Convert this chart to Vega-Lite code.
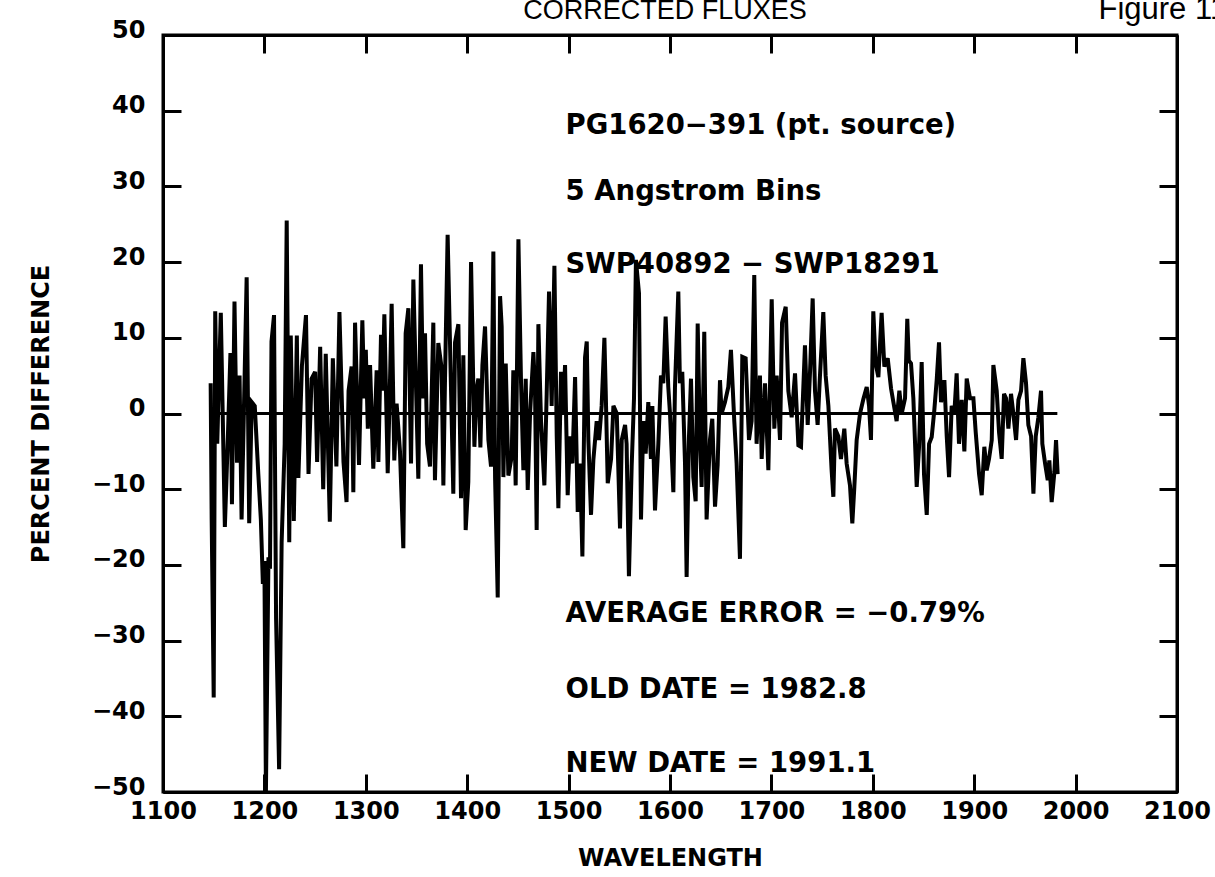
{
  "$schema": "https://vega.github.io/schema/vega-lite/v6.json",
  "width": 1014,
  "height": 757,
  "autosize": {"type": "none"},
  "padding": {"left": 163, "top": 35, "right": 38, "bottom": 85},
  "background": "white",
  "config": {
    "view": {"stroke": "black", "strokeWidth": 3},
    "axis": {
      "grid": false,
      "domainColor": "black",
      "domainWidth": 3,
      "tickColor": "black",
      "tickWidth": 3,
      "tickSize": -18,
      "labelColor": "black",
      "labelFont": "DejaVu Sans",
      "labelFontWeight": "bold",
      "labelFontSize": 24,
      "labelOverlap": false,
      "labelFlush": false,
      "titleColor": "black",
      "titleFont": "DejaVu Sans",
      "titleFontWeight": "bold",
      "titleFontSize": 24
    }
  },
  "datasets": {
    "spec": [
      {"w":1147,"p":4},{"w":1148,"p":-14},{"w":1150,"p":-37.5},{"w":1151.5,"p":13.5},{"w":1153.5,"p":-4},{"w":1157,"p":13.3},{"w":1161,"p":-15},{"w":1164,"p":-3},{"w":1166.5,"p":8},{"w":1168,"p":-12},{"w":1170.5,"p":14.8},{"w":1173,"p":-6.5},{"w":1175.5,"p":5},{"w":1177.5,"p":-14},{"w":1179.5,"p":-1.5},{"w":1182.5,"p":18},{"w":1185,"p":-14.5},{"w":1187.5,"p":1.5},{"w":1190.5,"p":1},{"w":1194,"p":-8},{"w":1196.5,"p":-14},{"w":1198.5,"p":-22.5},{"w":1200,"p":-19.5},{"w":1201.5,"p":-50},{"w":1204,"p":-19},{"w":1205.5,"p":-20.5},{"w":1207,"p":9.5},{"w":1209.5,"p":13},{"w":1211.5,"p":-27},{"w":1214.5,"p":-47},{"w":1217,"p":-17},{"w":1220,"p":-4},{"w":1222,"p":25.5},{"w":1224.5,"p":-17},{"w":1226,"p":10.3},{"w":1229,"p":-14.2},{"w":1232,"p":10.3},{"w":1233.5,"p":-8.5},{"w":1237,"p":6.3},{"w":1241,"p":13},{"w":1243.5,"p":-8},{"w":1246.5,"p":4.6},{"w":1250,"p":5.5},{"w":1252,"p":-6.4},{"w":1255,"p":8.8},{"w":1258,"p":-10},{"w":1260.5,"p":7.9},{"w":1264.5,"p":-14.3},{"w":1267.5,"p":7.3},{"w":1271,"p":-7},{"w":1274,"p":13.4},{"w":1278,"p":-6.4},
      {"w":1281,"p":-11.7},{"w":1283,"p":3},{"w":1286,"p":6.2},{"w":1287.7,"p":-10.4},{"w":1289.4,"p":12},{"w":1293.3,"p":-6.8},{"w":1296.6,"p":12.3},{"w":1298.5,"p":2},{"w":1300,"p":8.4},{"w":1302,"p":-2},{"w":1304.2,"p":6.4},{"w":1307.4,"p":-7.3},{"w":1310.7,"p":5.7},{"w":1312.4,"p":-6.4},{"w":1315,"p":10.4},{"w":1316.5,"p":3},{"w":1318.3,"p":13.1},{"w":1321.6,"p":-7.9},{"w":1323.5,"p":2},{"w":1325.5,"p":14.5},{"w":1328.1,"p":-6.2},{"w":1330.4,"p":1.3},{"w":1333.7,"p":-5},{"w":1337,"p":-17.8},{"w":1339.3,"p":10.6},{"w":1342,"p":13.9},{"w":1344.6,"p":-6.6},{"w":1346.9,"p":17.7},{"w":1349.2,"p":5.3},{"w":1351.8,"p":-8.6},{"w":1354.4,"p":19.7},{"w":1356.5,"p":2},{"w":1358.4,"p":10.6},{"w":1360.5,"p":-4},{"w":1363.3,"p":-7},{"w":1366.6,"p":12},{"w":1368.2,"p":-8.8},{"w":1371.5,"p":9.3},{"w":1374.8,"p":6},{"w":1376.5,"p":-9.5},{"w":1378.1,"p":4.4},{"w":1380.7,"p":23.6},{"w":1384,"p":3.5},{"w":1386.3,"p":-10.6},{"w":1388,"p":9.4},{"w":1391.3,"p":11.8},{"w":1393.9,"p":-11.2},{"w":1396.2,"p":7.7},{"w":1398.5,"p":-15.4},{"w":1401.1,"p":-9},{"w":1403.8,"p":20},{"w":1407.1,"p":-4.4},{"w":1409,"p":3},{"w":1411,"p":4.6},{"w":1413,"p":-4.5},{"w":1415,"p":6.4},{"w":1417.6,"p":11.5},
      {"w":1420.9,"p":-3.5},{"w":1423.5,"p":-7},{"w":1425.8,"p":21.4},{"w":1427.5,"p":-8.5},{"w":1430.1,"p":-24.3},{"w":1432.4,"p":15.5},{"w":1434,"p":11.5},{"w":1435.7,"p":-8.4},{"w":1438,"p":6.6},{"w":1440.6,"p":-8.2},{"w":1443.9,"p":-5.7},{"w":1445.5,"p":5.7},{"w":1447.8,"p":-9.5},{"w":1450.5,"p":23},{"w":1453.1,"p":4},{"w":1455.4,"p":-7.5},{"w":1457.7,"p":4.6},{"w":1459.7,"p":-10.1},{"w":1462,"p":0},{"w":1465.3,"p":8.1},{"w":1466.9,"p":3},{"w":1468.5,"p":-15.4},{"w":1470.2,"p":11.8},{"w":1472.8,"p":-1},{"w":1476.1,"p":-9.5},{"w":1478.4,"p":2.6},{"w":1480.7,"p":16.1},{"w":1483.3,"p":1},{"w":1486,"p":19.5},{"w":1488.3,"p":-3},{"w":1489.9,"p":-12.5},{"w":1492.5,"p":5.5},{"w":1494.5,"p":0},{"w":1496.5,"p":6.4},{"w":1499.1,"p":-10.8},{"w":1501.4,"p":-3},{"w":1503.7,"p":-6.6},{"w":1506.4,"p":4.8},{"w":1509,"p":-13},{"w":1511.3,"p":-6.6},{"w":1513.6,"p":-18.9},{"w":1516.2,"p":7.4},{"w":1517.9,"p":9.5},{"w":1519.5,"p":-3.5},{"w":1522.1,"p":-13.4},{"w":1524.4,"p":-6.2},{"w":1527.7,"p":-1},{"w":1530,"p":-3.5},{"w":1532.6,"p":1},{"w":1535.3,"p":10},{"w":1536.6,"p":3},{"w":1538.6,"p":-9.2},{"w":1541.9,"p":-6},{"w":1544.2,"p":1},{"w":1547.5,"p":0},{"w":1550.7,"p":-15.2},{"w":1552.4,"p":-3.5},{"w":1555.7,"p":-1.5},
      {"w":1557.2,"p":-4},{"w":1559.5,"p":-21.5},{"w":1562.2,"p":-7},{"w":1564.5,"p":2},{"w":1566.4,"p":20.3},{"w":1569.4,"p":15.9},{"w":1571.4,"p":-14},{"w":1573.7,"p":-1},{"w":1576,"p":-5.3},{"w":1578.6,"p":1.5},{"w":1581.2,"p":-6},{"w":1582.6,"p":1},{"w":1585.2,"p":-12.8},{"w":1588.5,"p":-4},{"w":1591.1,"p":5},{"w":1593.4,"p":4},{"w":1595.7,"p":12.8},{"w":1598.3,"p":3.5},{"w":1600,"p":0},{"w":1603.3,"p":-10.4},{"w":1604.9,"p":3.5},{"w":1608.2,"p":16.1},{"w":1609.8,"p":4},{"w":1612.1,"p":5.5},{"w":1614.8,"p":-6.6},{"w":1616.4,"p":-21.6},{"w":1618.7,"p":-3.1},{"w":1620.7,"p":4.6},{"w":1623,"p":-8.4},{"w":1625.3,"p":-11.6},{"w":1627.3,"p":11.9},{"w":1629.6,"p":-4},{"w":1631.2,"p":-9.7},{"w":1633.8,"p":10.8},{"w":1636.1,"p":-14},{"w":1639.4,"p":-3.5},{"w":1641.7,"p":-0.7},{"w":1644.4,"p":-12.3},{"w":1647,"p":-6.8},{"w":1649.3,"p":4.4},{"w":1650.9,"p":0},{"w":1654.2,"p":1.5},{"w":1657.5,"p":3.5},{"w":1660.1,"p":8.4},{"w":1663.4,"p":-1},{"w":1665.7,"p":-6.6},{"w":1669,"p":-19.2},{"w":1671.3,"p":7.5},{"w":1674.6,"p":7.3},{"w":1677.9,"p":-3.5},{"w":1680.5,"p":-1},{"w":1683.1,"p":18.3},{"w":1685.4,"p":-4},{"w":1688.7,"p":5},{"w":1690.4,"p":-6},{"w":1693.7,"p":4},
      {"w":1697,"p":-7.5},{"w":1700.3,"p":15.1},{"w":1702.9,"p":-2},{"w":1705.2,"p":5},{"w":1708.5,"p":-3.5},{"w":1710.5,"p":12},{"w":1714.1,"p":14.1},{"w":1716.7,"p":3},{"w":1720,"p":-0.5},{"w":1723.3,"p":5.3},{"w":1726.6,"p":-4.2},{"w":1729.2,"p":-4.4},{"w":1733.1,"p":9},{"w":1735.8,"p":-1.5},{"w":1738.1,"p":5.5},{"w":1740.7,"p":15.2},{"w":1743,"p":3},{"w":1745.6,"p":-1.5},{"w":1747.9,"p":5},{"w":1751.2,"p":13.4},{"w":1753.5,"p":5},{"w":1756.2,"p":1},{"w":1759.4,"p":-7.5},{"w":1761.1,"p":-11},{"w":1762.7,"p":-2},{"w":1766,"p":-3},{"w":1768.6,"p":-6},{"w":1771.9,"p":-2},{"w":1774.2,"p":-6.6},{"w":1777.5,"p":-9.5},{"w":1779.8,"p":-14.5},{"w":1781.8,"p":-9.7},{"w":1784.1,"p":-3.5},{"w":1787.4,"p":0},{"w":1790.7,"p":1.9},{"w":1794,"p":3.5},{"w":1796.3,"p":1},{"w":1798.2,"p":-3.5},{"w":1800.5,"p":13.5},{"w":1802.8,"p":6.6},{"w":1805.5,"p":4.8},{"w":1808.7,"p":13.3},{"w":1811.4,"p":6.2},{"w":1814.7,"p":7.3},{"w":1818,"p":3.3},{"w":1820.3,"p":1.5},{"w":1823.5,"p":-1},{"w":1826.2,"p":3},{"w":1828.5,"p":0},{"w":1831.8,"p":2},
      {"w":1834,"p":12.5},{"w":1835.5,"p":7},{"w":1837.7,"p":6.6},{"w":1840,"p":2},{"w":1843.3,"p":-9.7},{"w":1845.6,"p":-4.4},{"w":1848.2,"p":6.8},{"w":1850.5,"p":-8},{"w":1853.2,"p":-13.4},{"w":1855.5,"p":-4},{"w":1858.1,"p":-3.1},{"w":1860.7,"p":0.5},{"w":1863,"p":4.4},{"w":1865.3,"p":9.4},{"w":1867.3,"p":1.5},{"w":1870.6,"p":4.4},{"w":1872.9,"p":-3},{"w":1875.2,"p":-8.4},{"w":1877.8,"p":1},{"w":1880.4,"p":0},{"w":1882.7,"p":5.3},{"w":1885,"p":-4},{"w":1887.7,"p":1.8},{"w":1890.3,"p":-5},{"w":1892.6,"p":4.6},{"w":1895.9,"p":2},{"w":1899.2,"p":2},{"w":1901.5,"p":-2.5},{"w":1904.8,"p":-8},{"w":1907.4,"p":-10.8},{"w":1910,"p":-4.4},{"w":1912.3,"p":-7.5},{"w":1914.6,"p":-6},{"w":1917.3,"p":-3.5},{"w":1918.9,"p":6.4},{"w":1922.2,"p":3},{"w":1924.5,"p":-2.5},{"w":1927.1,"p":-6},{"w":1929.4,"p":2.6},{"w":1931.4,"p":2},{"w":1933.7,"p":-2},{"w":1936.3,"p":2.6},{"w":1938.6,"p":0},{"w":1941.3,"p":-3.5},{"w":1943.6,"p":1.8},{"w":1946.2,"p":3},{"w":1948.5,"p":7.3},{"w":1951.1,"p":4},{"w":1953.4,"p":-1.5},{"w":1956.1,"p":-3},{"w":1958.4,"p":-10.6},{"w":1960.7,"p":-3},{"w":1963.3,"p":-0.5},{"w":1965.9,"p":3},{"w":1967.2,"p":-4},{"w":1969.9,"p":-6.6},{"w":1972.5,"p":-8.8},{"w":1974.1,"p":-6.2},{"w":1976.4,"p":-11.7},{"w":1979.1,"p":-7.7},{"w":1980.7,"p":-3.5},{"w":1982.3,"p":-8}
    ],
    "zero": [{"w": 1148, "w2": 1982, "p": 0}],
    "notes": [
      {"w": 1497, "p": 38.0, "t": "PG1620−391 (pt. source)"},
      {"w": 1497, "p": 29.3, "t": "5 Angstrom Bins"},
      {"w": 1497, "p": 19.6, "t": "SWP40892 − SWP18291"},
      {"w": 1497, "p": -26.5, "t": "AVERAGE ERROR = −0.79%"},
      {"w": 1497, "p": -36.5, "t": "OLD DATE = 1982.8"},
      {"w": 1497, "p": -46.3, "t": "NEW DATE = 1991.1"}
    ],
    "heads": [
      {"w": 1595, "p": 52.1, "t": "CORRECTED FLUXES", "a": "c", "s": 27},
      {"w": 2086, "p": 52.1, "t": "Figure 11", "a": "l", "s": 31}
    ]
  },
  "layer": [
    {
      "data": {"name": "spec"},
      "mark": {"type": "line", "color": "black", "strokeWidth": 4, "clip": true},
      "encoding": {
        "x": {
          "field": "w", "type": "quantitative",
          "scale": {"domain": [1100, 2100], "nice": false, "zero": false},
          "axis": {
            "orient": "bottom",
            "values": [1100, 1200, 1300, 1400, 1500, 1600, 1700, 1800, 1900, 2000, 2100],
            "format": "d",
            "labelPadding": 25,
            "title": "WAVELENGTH",
            "titlePadding": 23
          }
        },
        "y": {
          "field": "p", "type": "quantitative",
          "scale": {"domain": [-50, 50], "nice": false, "zero": false},
          "axis": {
            "orient": "left",
            "values": [-50, -40, -30, -20, -10, 0, 10, 20, 30, 40, 50],
            "format": "d",
            "labelPadding": 36,
            "labelBaseline": "middle",
            "labelOffset": -5,
            "title": "PERCENT DIFFERENCE",
            "titlePadding": 38
          }
        }
      }
    },
    {
      "data": {"name": "zero"},
      "mark": {"type": "rule", "color": "black", "strokeWidth": 3},
      "encoding": {
        "x": {"field": "w", "type": "quantitative", "axis": null},
        "x2": {"field": "w2"},
        "y": {"field": "p", "type": "quantitative", "axis": null}
      }
    },
    {
      "data": {"name": "notes"},
      "mark": {"type": "text", "align": "left", "baseline": "middle", "font": "DejaVu Sans", "fontWeight": "bold", "fontSize": 27.5, "color": "black"},
      "encoding": {
        "x": {
          "field": "w", "type": "quantitative",
          "axis": {"orient": "top", "values": [1100, 1200, 1300, 1400, 1500, 1600, 1700, 1800, 1900, 2000, 2100], "labels": false, "title": null}
        },
        "y": {
          "field": "p", "type": "quantitative",
          "axis": {"orient": "right", "values": [-50, -40, -30, -20, -10, 0, 10, 20, 30, 40, 50], "labels": false, "title": null}
        },
        "text": {"field": "t"}
      }
    },
    {
      "data": {"name": "heads"},
      "mark": {"type": "text", "baseline": "alphabetic", "font": "Liberation Sans", "color": "black", "clip": false},
      "encoding": {
        "x": {"field": "w", "type": "quantitative", "axis": null},
        "y": {"field": "p", "type": "quantitative", "axis": null},
        "text": {"field": "t"},
        "size": {"field": "s", "type": "quantitative", "scale": null, "legend": null},
        "align": {"condition": {"test": "datum.a === 'l'", "value": "left"}, "value": "center"}
      }
    }
  ],
  "resolve": {"axis": {"x": "independent", "y": "independent"}}
}
